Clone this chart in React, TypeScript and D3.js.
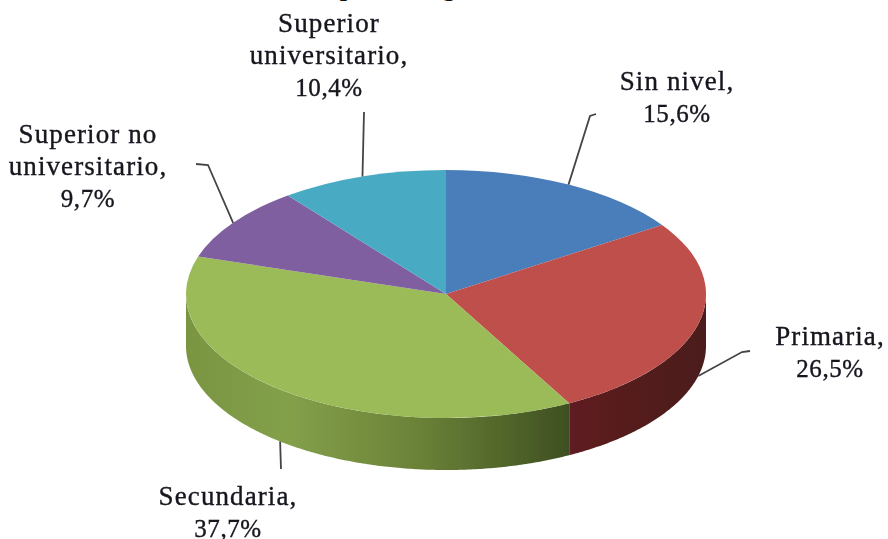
import React from "react";
import * as d3 from "d3";

const categories = ["Sin nivel", "Primaria", "Secundaria", "Superior no universitario", "Superior universitario"];
const shares = [15.6, 26.5, 37.7, 9.7, 10.4];
const topColours = ["#4a7ebb", "#bf4f4c", "#9bbb59", "#7f5fa0", "#4aaac4"];

// label wrapping and placement, one entry per category
const labelLines = [
    ["Sin nivel,", "15,6%"],
    ["Primaria,", "26,5%"],
    ["Secundaria,", "37,7%"],
    ["Superior no", "universitario,", "9,7%"],
    ["Superior", "universitario,", "10,4%"]
];
const labelCentres = [677, 830, 228, 88, 329];
const labelFirstBaselines = [90, 345, 505, 143, 32];
const leaderElbows = [
    [[590, 116], [596, 114]],
    [[742, 352], [750, 351]],
    [[281, 469]],
    [[208, 165], [196, 164]],
    [[364, 112]]
];

const layout = { width: 888, height: 539, cx: 446, cy: 294, rx: 260, ry: 124, depth: 52, lineHeight: 32 };

const pie = d3.pie<number>().sort(null).value(d => d);
const arcs = pie(shares);
const arcPath = d3.arc<d3.PieArcDatum<number>>().innerRadius(0).outerRadius(layout.rx);

const px = (a: number) => layout.cx + layout.rx * Math.sin(a);
const py = (a: number) => layout.cy - layout.ry * Math.cos(a);

const wallPath = d3.area<number>()
    .x(px)
    .y0(py)
    .y1(a => py(a) + layout.depth);

// only the front half of the rim can be seen
function wallAngles(start: number, end: number) {
    const from = Math.max(start, Math.PI / 2);
    const to = Math.min(end, (3 * Math.PI) / 2);
    if (to <= from) return null;
    return d3.range(from, to, 0.01).concat([to]);
}

const wallFills = [null, "url(#wallRed)", "url(#wallGreen)", null, null];

export default function App() {
    return (
        <svg
            width={layout.width}
            height={layout.height}
            style={{ position: "absolute", left: 0, top: 0, background: "#fff" }}
            fontFamily="'Liberation Serif', serif"
        >
            <defs>
                <linearGradient id="wallGreen" gradientUnits="userSpaceOnUse" x1={186} x2={570} y1={0} y2={0}>
                    <stop offset="0" stopColor="#7a9542" />
                    <stop offset="0.27" stopColor="#83a04a" />
                    <stop offset="0.6" stopColor="#6b8238" />
                    <stop offset="0.85" stopColor="#4f6329" />
                    <stop offset="1" stopColor="#3f4f22" />
                </linearGradient>
                <linearGradient id="wallRed" gradientUnits="userSpaceOnUse" x1={570} x2={706} y1={0} y2={0}>
                    <stop offset="0" stopColor="#5e1f20" />
                    <stop offset="1" stopColor="#4b1f1b" />
                </linearGradient>
                <filter id="soft" x="-5%" y="-5%" width="110%" height="110%">
                    <feGaussianBlur stdDeviation="0.5" />
                </filter>
            </defs>

            <g filter="url(#soft)">
                {arcs.map((d, i) => {
                    const angles = wallAngles(d.startAngle, d.endAngle);
                    if (!angles) return null;
                    return <path key={i} d={wallPath(angles) as string} fill={wallFills[i] as string} />;
                })}
                <g transform={`translate(${layout.cx},${layout.cy}) scale(1,${layout.ry / layout.rx})`}>
                    {arcs.map((d, i) => (
                        <path key={i} d={arcPath(d) as string} fill={topColours[i]} />
                    ))}
                </g>
            </g>

            {arcs.map((d, i) => {
                const mid = (d.startAngle + d.endAngle) / 2;
                const onWall = Math.cos(mid) < 0 && categories[i] !== "Superior universitario";
                const start: [number, number] = [px(mid), py(mid) + (onWall ? layout.depth : 0)];
                const points = [start, ...(leaderElbows[i] as [number, number][])];
                return (
                    <path
                        key={i}
                        d={d3.line()(points) as string}
                        fill="none"
                        stroke="#454545"
                        strokeWidth={1.8}
                    />
                );
            })}

            <g
                filter="url(#soft)"
                fill="#14141c"
                stroke="#14141c"
                strokeWidth={0.35}
                fontSize={27}
                textAnchor="middle"
                style={{ letterSpacing: "1.1px" }}
            >
                {labelLines.map((lines, i) => (
                    <text key={i} x={labelCentres[i]}>
                        {lines.map((line, j) => (
                            // the percentage line runs a little narrower than the words
                            <tspan
                                key={j}
                                x={labelCentres[i]}
                                y={labelFirstBaselines[i] + j * layout.lineHeight}
                                fontSize={j === lines.length - 1 ? 25 : 27}
                                style={j === lines.length - 1 ? { letterSpacing: "0.6px" } : undefined}
                            >
                                {line}
                            </tspan>
                        ))}
                    </text>
                ))}
            </g>

            {/* title is cut off by the top edge, only the tails of two letters remain */}
            <g fontSize={26} fontWeight="bold" fill="#111" textAnchor="middle">
                <text x={347} y={-4}>p</text>
                <text x={449} y={-4}>g</text>
            </g>
        </svg>
    );
}
